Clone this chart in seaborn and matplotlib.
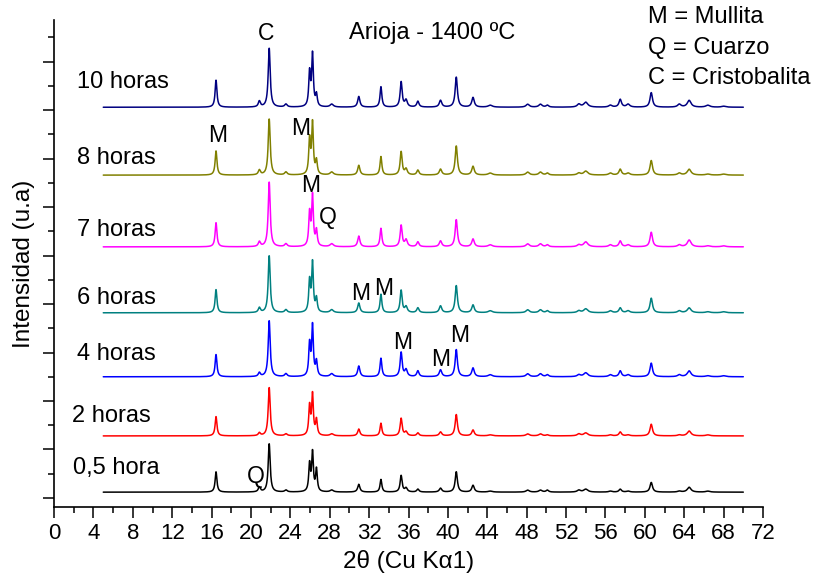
import numpy as np
import pandas as pd
import matplotlib
matplotlib.use("Agg")
import matplotlib.pyplot as plt
import seaborn as sns
from matplotlib.ticker import MultipleLocator

# ---------------- Data ----------------
samples = ["0,5 hora", "2 horas", "4 horas", "6 horas", "7 horas", "8 horas", "10 horas"]
colors = ["#000000", "#FF0000", "#0000FF", "#008080", "#FF00FF", "#808000", "#000080"]
offsets = [6, 64, 125, 191, 259, 333, 403]
label_x = [1.9, 1.8, 2.3, 2.3, 2.3, 2.3, 2.3]
label_y = [31, 85, 148, 206, 276, 351, 429]

# peak positions (2theta) and widths (FWHM)
peak_pos = [16.45, 20.85, 21.85, 23.55, 25.95, 26.25, 26.65, 28.2, 30.95, 33.2,
            35.25, 35.75, 36.95, 39.25, 40.85, 42.55, 44.3, 48.1, 49.4, 50.1,
            53.3, 54.0, 56.5, 57.5, 58.3, 60.65, 63.5, 64.5, 66.4, 68.0]
peak_fwhm = [0.22, 0.25, 0.24, 0.3, 0.2, 0.2, 0.2, 0.4, 0.27, 0.22,
             0.24, 0.3, 0.27, 0.3, 0.27, 0.3, 0.5, 0.4, 0.4, 0.3,
             0.4, 0.5, 0.4, 0.3, 0.4, 0.3, 0.4, 0.45, 0.5, 0.5]

h_05 = [21, 5, 50, 2, 28, 40, 23, 2, 8, 13, 17, 4, 3, 4, 21, 7, 1, 2, 2, 2, 2, 3, 1, 3, 1, 10, 1, 5, 1, 0]
h_2 = [20, 3, 50, 2, 30, 42, 16, 2, 7, 13, 18, 4, 3, 4, 22, 6, 1, 2, 2, 1, 2, 3, 1, 4, 1, 12, 1, 5, 1, 0]
h_4 = [23, 4, 58, 3, 33, 52, 15, 3, 11, 19, 25, 7, 6, 7, 28, 9, 2, 3, 3, 2, 2, 4, 2, 6, 2, 14, 2, 6, 1, 1]
h_6 = [24, 5, 59, 3, 32, 51, 14, 3, 10, 19, 23, 6, 5, 7, 28, 8, 2, 3, 3, 2, 2, 4, 2, 5, 2, 15, 2, 5, 1, 1]
h_7 = [25, 5, 67, 3, 34, 52, 16, 3, 11, 19, 22, 7, 5, 6, 28, 8, 2, 3, 3, 2, 2, 5, 2, 6, 2, 15, 2, 7, 1, 1]
h_8 = [25, 5, 58, 3, 36, 53, 14, 3, 10, 19, 24, 6, 5, 6, 30, 9, 2, 3, 3, 2, 2, 4, 2, 6, 2, 15, 2, 6, 1, 1]
h_10 = [28, 6, 61, 3, 35, 54, 12, 3, 11, 21, 26, 7, 6, 7, 31, 10, 2, 3, 3, 2, 3, 5, 2, 8, 3, 15, 3, 7, 2, 1]
heights = [h_05, h_2, h_4, h_6, h_7, h_8, h_10]

# phase labels: text, 2theta, intensity
phase_txt = ["C", "M", "M", "M", "Q", "M", "M", "M", "M", "M", "Q"]
phase_x = [21.5, 16.6, 25.0, 26.1, 27.8, 31.1, 33.5, 35.4, 39.3, 41.2, 20.5]
phase_y = [479, 374, 381, 322, 289, 211, 216, 160, 143, 168, 22]

# ---------------- Build patterns ----------------
two_theta = np.arange(5, 70.001, 0.02)
rows = []
for name, off, hs in zip(samples, offsets, heights):
    y = np.full_like(two_theta, off, dtype=float)
    for p, w, h in zip(peak_pos, peak_fwhm, hs):
        y += h / (1 + ((two_theta - p) / (w / 2)) ** 2)
    rows.append(pd.DataFrame({"x": two_theta, "y": y, "sample": name}))
df = pd.concat(rows, ignore_index=True)

# ---------------- Plot ----------------
sns.set_style("ticks")
plt.rcParams["font.family"] = ["Liberation Sans", "DejaVu Sans"]
plt.rcParams["text.color"] = "black"
plt.rcParams["axes.labelcolor"] = "black"
plt.rcParams["xtick.color"] = "black"
plt.rcParams["ytick.color"] = "black"
plt.rcParams["axes.edgecolor"] = "black"

fig = plt.figure(figsize=(8.2, 5.81), dpi=100)
ax = fig.add_axes([0.0659, 0.1274, 0.8646, 0.8382])

sns.lineplot(data=df, x="x", y="y", hue="sample", palette=dict(zip(samples, colors)),
             estimator=None, sort=False, legend=False, linewidth=1.1, ax=ax)

for name, lx, ly in zip(samples, label_x, label_y):
    ax.text(lx, ly, name, fontsize=17, va="center", ha="left")

for t, px, py in zip(phase_txt, phase_x, phase_y):
    ax.text(px, py, t, fontsize=16.5, ha="center", va="center")

fig.text(0.527, 0.943, "Arioja - 1400 ºC", fontsize=17, ha="center", va="center")
fig.text(0.79, 0.970, "M = Mullita", fontsize=17, va="center")
fig.text(0.79, 0.918, "Q = Cuarzo", fontsize=17, va="center")
fig.text(0.79, 0.865, "C = Cristobalita", fontsize=17, va="center")

ax.set_xlim(0, 72)
ax.set_ylim(-9.3, 493)
ax.xaxis.set_major_locator(MultipleLocator(4))
ax.xaxis.set_minor_locator(MultipleLocator(2))
ax.yaxis.set_major_locator(MultipleLocator(50))
ax.yaxis.set_minor_locator(MultipleLocator(25))
ax.tick_params(axis="both", which="major", length=8, width=1.1, labelsize=16, direction="out")
ax.tick_params(axis="both", which="minor", length=4, width=1.1, direction="out")
ax.tick_params(axis="y", which="both", labelleft=False)
for s in ["top", "right"]:
    ax.spines[s].set_visible(False)
for s in ["left", "bottom"]:
    ax.spines[s].set_linewidth(1.2)

ax.set_xlabel("2θ (Cu Kα1)", fontsize=17.5, labelpad=4)
ax.set_ylabel("Intensidad (u.a)", fontsize=17.5, labelpad=6)

fig.savefig("out.png", dpi=100)
